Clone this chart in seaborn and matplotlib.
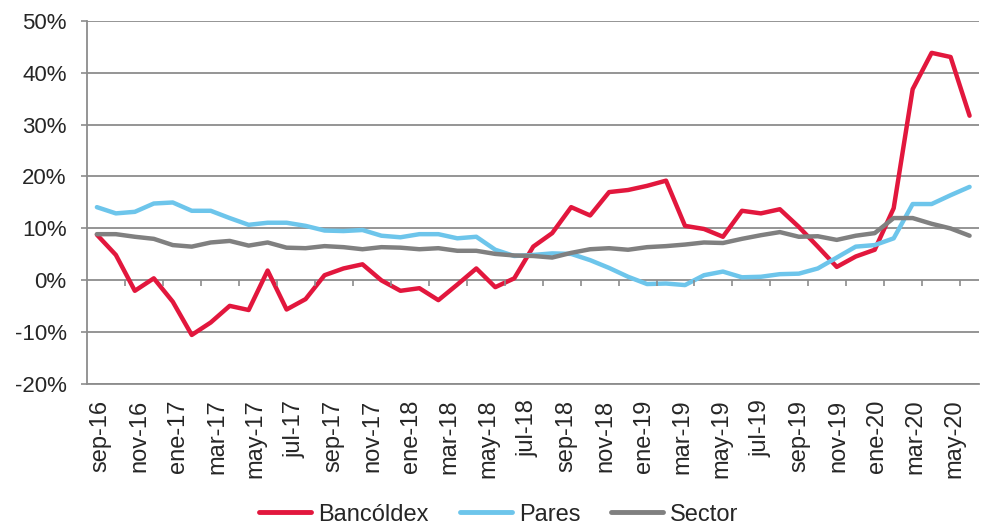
import matplotlib
matplotlib.use("Agg")
import matplotlib.pyplot as plt
import seaborn as sns
import numpy as np
import pandas as pd

# Monthly series, sep-16 .. jul-20 (values in %)
months = [
    "sep-16", "oct-16", "nov-16", "dic-16",
    "ene-17", "feb-17", "mar-17", "abr-17", "may-17", "jun-17",
    "jul-17", "ago-17", "sep-17", "oct-17", "nov-17", "dic-17",
    "ene-18", "feb-18", "mar-18", "abr-18", "may-18", "jun-18",
    "jul-18", "ago-18", "sep-18", "oct-18", "nov-18", "dic-18",
    "ene-19", "feb-19", "mar-19", "abr-19", "may-19", "jun-19",
    "jul-19", "ago-19", "sep-19", "oct-19", "nov-19", "dic-19",
    "ene-20", "feb-20", "mar-20", "abr-20", "may-20", "jun-20",
    "jul-20",
]

bancoldex = [
    8.8, 4.9, -2.0, 0.4, -4.1, -10.5, -8.1, -4.9, -5.7, 1.9,
    -5.6, -3.6, 1.0, 2.3, 3.1, 0.0, -2.0, -1.5, -3.8, -0.8,
    2.3, -1.3, 0.4, 6.5, 9.1, 14.1, 12.5, 17.0, 17.4, 18.2,
    19.2, 10.5, 9.9, 8.4, 13.4, 12.9, 13.7, 10.3, 6.5, 2.6,
    4.6, 5.9, 13.9, 36.8, 43.8, 43.0, 31.7,
]

pares = [
    14.1, 12.9, 13.2, 14.8, 15.0, 13.4, 13.4, 12.0, 10.7, 11.1,
    11.1, 10.5, 9.6, 9.5, 9.7, 8.6, 8.3, 8.9, 8.9, 8.1,
    8.4, 5.9, 4.7, 4.9, 5.2, 5.1, 3.9, 2.4, 0.7, -0.7,
    -0.6, -0.9, 1.0, 1.7, 0.6, 0.7, 1.2, 1.3, 2.3, 4.4,
    6.5, 6.8, 8.1, 14.7, 14.7, 16.4, 18.0,
]

sector = [
    8.9, 8.9, 8.4, 8.0, 6.8, 6.5, 7.3, 7.6, 6.7, 7.3,
    6.3, 6.2, 6.6, 6.4, 6.0, 6.4, 6.3, 6.0, 6.2, 5.7,
    5.7, 5.1, 4.8, 4.7, 4.4, 5.3, 6.0, 6.2, 5.9, 6.4,
    6.6, 6.9, 7.3, 7.2, 8.0, 8.7, 9.3, 8.4, 8.5, 7.8,
    8.6, 9.1, 12.0, 12.0, 10.9, 10.0, 8.6,
]

tick_labels = months[::2][:23]  # sep-16 ... may-20
y_ticks = [-20, -10, 0, 10, 20, 30, 40, 50]

series_names = ["Bancóldex", "Pares", "Sector"]
colors = ["#E2173D", "#6DC5EB", "#808080"]

df = pd.DataFrame({
    "idx": np.tile(np.arange(len(months)), 3),
    "valor": bancoldex + pares + sector,
    "serie": np.repeat(series_names, len(months)),
})

sns.set_style("white")
plt.rcParams["font.family"] = ["Liberation Sans", "DejaVu Sans"]

fig = plt.figure(figsize=(9.82, 5.29), dpi=100)
ax = fig.add_axes([0.089, 0.2735, 0.908, 0.6875])

sns.lineplot(
    data=df, x="idx", y="valor", hue="serie",
    palette=dict(zip(series_names, colors)),
    linewidth=3.2, sort=False, ax=ax, legend=False,
)

n = len(months)
ax.set_xlim(-0.5, n - 0.5)
ax.set_ylim(-20, 50)
ax.set_yticks(y_ticks)
ax.set_yticklabels([f"{v}%" for v in y_ticks])
ax.set_xlabel("")
ax.set_ylabel("")

# category labels every two months
ax.set_xticks(np.linspace(0.2, 45.2, len(tick_labels)))
ax.set_xticklabels(tick_labels, rotation=90)
ax.tick_params(axis="x", length=0, pad=11, labelsize=17)
ax.tick_params(axis="y", length=4, width=1.2, color="#8c8c8c",
               pad=11, labelsize=16, direction="out", left=True)

ax.yaxis.grid(True, color="#8c8c8c", linewidth=1.3)
ax.set_axisbelow(True)
for side in ["top", "right"]:
    ax.spines[side].set_visible(False)
ax.spines["left"].set_color("#8c8c8c")
ax.spines["left"].set_linewidth(1.3)
ax.spines["bottom"].set_color("#8c8c8c")
ax.spines["bottom"].set_linewidth(1.3)

# tick marks of the category axis sit on the 0% line
ax2 = ax.twiny()
ax2.set_xlim(ax.get_xlim())
ax2.spines["bottom"].set_position(("data", 0))
ax2.xaxis.set_ticks_position("bottom")
for side in ["top", "right", "left", "bottom"]:
    ax2.spines[side].set_visible(False)
ax2.set_xticks(np.arange(1.5, n - 1, 2))
ax2.set_xticklabels([])
ax2.tick_params(axis="x", length=4.5, width=1.2, color="#8c8c8c", direction="out")

handles = [plt.Line2D([], [], color=c, linewidth=3.5) for c in colors]
fig.legend(
    handles, series_names, loc="center", bbox_to_anchor=(0.508, 0.027),
    ncol=3, frameon=False, fontsize=17, handlelength=2.2,
    handletextpad=0.3, columnspacing=1.3,
)

fig.savefig("out.png", dpi=100)
